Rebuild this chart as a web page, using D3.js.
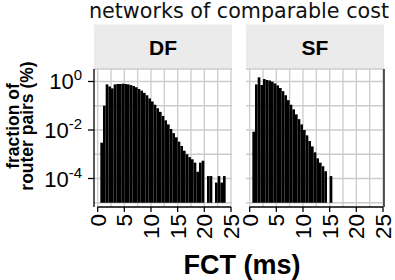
<!DOCTYPE html>
<html>
<head>
<meta charset="utf-8">
<script src="https://cdn.jsdelivr.net/npm/d3@7"></script>
<style>
  body { margin: 0; background: #fff; }
  text { font-family: "Liberation Sans", Arial, sans-serif; fill: #000; }
</style>
</head>
<body>
<svg id="chart" width="395" height="280"></svg>
<script>
// histogram bins of 0.5 ms starting at 0 ms; values are % of router pairs (0 = empty bin)
var binWidth = 0.5;
var dfValues = [0, 0.0030, 0.10, 0.76, 0.62, 0.52, 0.76, 0.79, 0.79, 0.81,
    0.79, 0.76, 0.71, 0.65, 0.58, 0.49, 0.42, 0.34, 0.27, 0.20,
    0.15, 0.11, 0.079, 0.056, 0.038, 0.025, 0.017, 0.011, 0.0074, 0.0050,
    0.0033, 0.0022, 0.0014, 0.0010, 0.00076, 0.00062, 0.00045, 0.00019, 0.00045, 0.00054,
    0, 0.000126, 0.000126, 0, 0.000068, 0.000126, 0.000068, 0.000126];
var sfValues = [0, 0.0085, 0.76, 1.48, 0.72, 1.26, 1.15, 1.10, 0.98, 0.83,
    0.69, 0.54, 0.40, 0.27, 0.17, 0.11, 0.071, 0.044, 0.028, 0.017,
    0.010, 0.0060, 0.0035, 0.0021, 0.0012, 0.00068, 0.00045, 0.00032, 0.00020, 0,
    0.000126];
var panelNames = ['DF', 'SF'];
var xTicks = [0, 5, 10, 15, 20, 25];
var yTickExps = [0, -2, -4];
var yGridExps = [0, -1, -2, -3, -4, -5];

var svg = d3.select('#chart');

var panelTop = 69, panelBottom = 207, panelW = 138;
var panelLeft = [94, 246];
var series = [dfValues, sfValues];

var y = d3.scaleLog()
    .domain([Math.pow(10, -5.175), Math.pow(10, 0.515)])
    .range([panelBottom, panelTop]);

// title
svg.append('text')
    .attr('x', 239).attr('y', 18)
    .attr('text-anchor', 'middle')
    .style('font-family', '"DejaVu Sans", sans-serif')
    .style('font-size', '20.7px')
    .style('fill', '#111')
    .text('networks of comparable cost');

panelNames.forEach(function (name, p) {
    var x0 = panelLeft[p];
    var x = d3.scaleLinear().domain([-0.69, 25.19]).range([x0, x0 + panelW]);
    var g = svg.append('g');

    // strip
    g.append('rect')
        .attr('x', x0).attr('y', 24.5)
        .attr('width', panelW).attr('height', panelTop - 24.5)
        .attr('fill', '#ebebeb');
    g.append('text')
        .attr('x', x0 + panelW / 2).attr('y', 54.5)
        .attr('text-anchor', 'middle')
        .style('font-weight', 'bold')
        .style('font-size', '21px')
        .text(name);

    // grid
    g.selectAll('.vgrid')
        .data(d3.range(0, 25.01, 2.5))
        .enter().append('line')
        .attr('x1', d => x(d)).attr('x2', d => x(d))
        .attr('y1', panelTop).attr('y2', panelBottom)
        .attr('stroke', '#cccccc').attr('stroke-width', 1.3);
    g.selectAll('.hgrid')
        .data(yGridExps)
        .enter().append('line')
        .attr('x1', x0).attr('x2', x0 + panelW)
        .attr('y1', d => y(Math.pow(10, d))).attr('y2', d => y(Math.pow(10, d)))
        .attr('stroke', '#cccccc').attr('stroke-width', 1.3);
    g.append('line')
        .attr('x1', x0).attr('x2', x0 + panelW)
        .attr('y1', panelTop).attr('y2', panelTop)
        .attr('stroke', '#cccccc').attr('stroke-width', 1.3);

    // bars
    var base = y(1e-5);
    g.selectAll('.bar')
        .data(series[p].map((v, i) => ({ v: v, i: i })).filter(d => d.v > 0))
        .enter().append('rect')
        .attr('x', d => x(d.i * binWidth))
        .attr('width', d => x((d.i + 1) * binWidth) - x(d.i * binWidth))
        .attr('y', d => y(d.v))
        .attr('height', d => base - y(d.v))
        .attr('fill', '#000');

    // x axis
    g.append('line')
        .attr('x1', x(0)).attr('x2', x(25))
        .attr('y1', panelBottom).attr('y2', panelBottom)
        .attr('stroke', '#000').attr('stroke-width', 1.3);
    g.selectAll('.xtick')
        .data(xTicks)
        .enter().append('line')
        .attr('x1', d => x(d)).attr('x2', d => x(d))
        .attr('y1', panelBottom).attr('y2', panelBottom + 5)
        .attr('stroke', '#000').attr('stroke-width', 1.3);
    g.selectAll('.xlab')
        .data(xTicks)
        .enter().append('text')
        .attr('transform', d => 'translate(' + (x(d) + 8) + ',' + (panelBottom + 7) + ') rotate(-90)')
        .attr('text-anchor', 'end')
        .style('font-size', '22.5px')
        .text(d => d);

    // vertical frame line
    var edge = p === 0 ? x0 : x0 + panelW;
    g.append('line')
        .attr('x1', edge).attr('x2', edge)
        .attr('y1', panelTop).attr('y2', panelBottom)
        .attr('stroke', '#000').attr('stroke-width', 1.3);
});

// y axis ticks and labels (left panel only)
yTickExps.forEach(function (e) {
    var yy = y(Math.pow(10, e));
    svg.append('line')
        .attr('x1', 88).attr('x2', 94)
        .attr('y1', yy).attr('y2', yy)
        .attr('stroke', '#000').attr('stroke-width', 1.3);
    var t = svg.append('text')
        .attr('x', 82).attr('y', yy + 8)
        .attr('text-anchor', 'end')
        .style('font-size', '22px');
    t.append('tspan').text('10');
    t.append('tspan').attr('dy', -9).style('font-size', '15px').text(e);
});

// y axis title
var yt = svg.append('text')
    .attr('transform', 'translate(0,126) rotate(-90)')
    .attr('text-anchor', 'middle')
    .style('font-weight', 'bold')
    .style('font-size', '17.5px');
yt.append('tspan').attr('x', 0).attr('y', 18.5).text('fraction of');
yt.append('tspan').attr('x', 0).attr('y', 33).text('router pairs (%)');

// x axis title
svg.append('text')
    .attr('x', 242).attr('y', 274)
    .attr('text-anchor', 'middle')
    .style('font-weight', 'bold')
    .style('font-size', '27px')
    .text('FCT (ms)');
</script>
</body>
</html>
